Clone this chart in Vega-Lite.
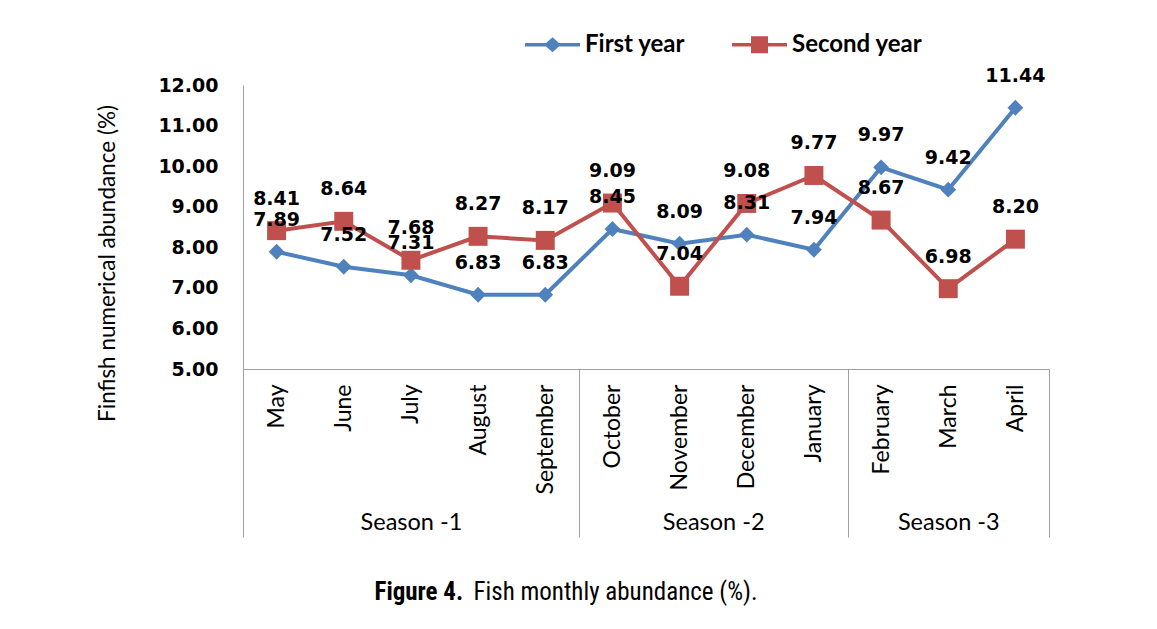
{
  "$schema": "https://vega.github.io/schema/vega-lite/v6.json",
  "width": 806,
  "height": 284,
  "autosize": "none",
  "padding": {"left": 243, "top": 85, "right": 108, "bottom": 260},
  "background": "white",
  "config": {"view": {"stroke": null}},
  "datasets": {
    "abundance": [
      {"month": "May", "series": "First year", "value": 7.89},
      {"month": "June", "series": "First year", "value": 7.52},
      {"month": "July", "series": "First year", "value": 7.31},
      {"month": "August", "series": "First year", "value": 6.83},
      {"month": "September", "series": "First year", "value": 6.83},
      {"month": "October", "series": "First year", "value": 8.45},
      {"month": "November", "series": "First year", "value": 8.09},
      {"month": "December", "series": "First year", "value": 8.31},
      {"month": "January", "series": "First year", "value": 7.94},
      {"month": "February", "series": "First year", "value": 9.97},
      {"month": "March", "series": "First year", "value": 9.42},
      {"month": "April", "series": "First year", "value": 11.44},
      {"month": "May", "series": "Second year", "value": 8.41},
      {"month": "June", "series": "Second year", "value": 8.64},
      {"month": "July", "series": "Second year", "value": 7.68},
      {"month": "August", "series": "Second year", "value": 8.27},
      {"month": "September", "series": "Second year", "value": 8.17},
      {"month": "October", "series": "Second year", "value": 9.09},
      {"month": "November", "series": "Second year", "value": 7.04},
      {"month": "December", "series": "Second year", "value": 9.08},
      {"month": "January", "series": "Second year", "value": 9.77},
      {"month": "February", "series": "Second year", "value": 8.67},
      {"month": "March", "series": "Second year", "value": 6.98},
      {"month": "April", "series": "Second year", "value": 8.20}
    ],
    "seasons": [
      {"season": "Season -1", "start": 0, "end": 5},
      {"season": "Season -2", "start": 5, "end": 9},
      {"season": "Season -3", "start": 9, "end": 12}
    ]
  },
  "layer": [
    {
      "data": {"name": "abundance"},
      "encoding": {
        "x": {
          "field": "month", "type": "ordinal",
          "sort": ["May", "June", "July", "August", "September", "October", "November", "December", "January", "February", "March", "April"],
          "scale": {"type": "point", "padding": 0.5},
          "axis": {
            "orient": "bottom",
            "labelAngle": -90, "labelFont": "Lato", "labelFontSize": 23, "labelColor": "black",
            "labelPadding": 15, "ticks": false, "tickSize": 0,
            "domainColor": "#a0a0a0", "domainWidth": 1, "grid": false,
            "title": "Figure 4.", "titleFont": "Liberation Sans Narrow, Roboto Condensed, Liberation Sans",
            "titleFontSize": 25, "titleFontWeight": "bold", "titleColor": "black",
            "titleX": 131, "titleY": 222, "titleAlign": "left", "titleBaseline": "middle", "titleAnchor": null
          }
        },
        "y": {
          "field": "value", "type": "quantitative",
          "scale": {"domain": [5, 12], "nice": false, "zero": false},
          "axis": {
            "values": [5, 6, 7, 8, 9, 10, 11, 12], "format": ".2f",
            "labelFont": "DejaVu Sans", "labelFontSize": 19, "labelFontWeight": "bold", "labelColor": "black",
            "labelPadding": 25, "ticks": false, "tickSize": 0, "grid": false,
            "domainColor": "#a0a0a0", "domainWidth": 1,
            "title": "Finfish numerical abundance (%)", "titleFont": "Lato", "titleFontSize": 22.5,
            "titleFontWeight": "normal", "titleColor": "black", "titleAngle": 270,
            "titleX": -136, "titleY": 178, "titleAlign": "center", "titleBaseline": "middle"
          }
        }
      },
      "layer": [
        {
          "mark": {"type": "line", "strokeWidth": 4},
          "encoding": {
            "color": {
              "field": "series", "type": "nominal",
              "scale": {"domain": ["First year", "Second year"], "range": ["#4F81BD", "#C0504D"]},
              "legend": {
                "orient": "none", "legendX": 282, "legendY": -68, "direction": "horizontal", "title": null,
                "symbolSize": 3025, "symbolStrokeWidth": 0,
                "symbolType": "M-1,-0.065L1,-0.065L1,0.065L-1,0.065Z",
                "labelFont": "Lato", "labelFontSize": 24, "labelFontWeight": "bold", "labelColor": "black",
                "labelOffset": 5, "columnPadding": 46, "padding": 0,
                "encode": {
                  "symbols": {
                    "update": {
                      "shape": {"signal": "datum.value === 'First year' ? 'M-1,-0.065L-0.235,-0.065L0,-0.27L0.235,-0.065L1,-0.065L1,0.065L0.235,0.065L0,0.27L-0.235,0.065L-1,0.065Z' : 'M-1,-0.065L-0.31,-0.065L-0.31,-0.31L0.31,-0.31L0.31,-0.065L1,-0.065L1,0.065L0.31,0.065L0.31,0.31L-0.31,0.31L-0.31,0.065L-1,0.065Z'"},
                      "fill": {"signal": "scale('color', datum.value)"},
                      "size": {"value": 3025},
                      "fillOpacity": {"value": 1},
                      "strokeWidth": {"value": 0}
                    }
                  }
                }
              }
            }
          }
        },
        {
          "transform": [{"filter": "datum.series === 'First year'"}],
          "mark": {"type": "point", "filled": true, "opacity": 1, "shape": "diamond", "size": 250, "color": "#4F81BD"}
        },
        {
          "transform": [{"filter": "datum.series === 'Second year'"}],
          "mark": {"type": "point", "filled": true, "opacity": 1, "shape": "square", "size": 360, "color": "#C0504D"}
        },
        {
          "mark": {"type": "text", "dy": -32, "baseline": "middle", "align": "center", "font": "DejaVu Sans", "fontSize": 19, "fontWeight": "bold", "color": "black"},
          "encoding": {
            "text": {"field": "value", "type": "quantitative", "format": ".2f"}
          }
        }
      ]
    },
    {
      "data": {"name": "seasons"},
      "mark": {"type": "rect", "fillOpacity": 0, "strokeOpacity": 0},
      "encoding": {
        "x": {
          "field": "start", "type": "quantitative",
          "scale": {"domain": [0, 12], "nice": false, "zero": false},
          "axis": {
            "orient": "bottom",
            "values": [0, 2.5, 5, 7, 9, 10.5, 12],
            "labelExpr": "datum.value === 2.5 ? 'Season -1' : datum.value === 7 ? 'Season -2' : datum.value === 10.5 ? 'Season -3' : ''",
            "labelFont": "Lato", "labelFontSize": 23.5, "labelColor": "black", "labelAngle": 0,
            "labelBaseline": "middle", "labelPadding": -15, "labelFlush": false, "labelOverlap": false,
            "ticks": true, "tickSize": 168, "tickColor": "#a0a0a0", "tickWidth": 1,
            "tickOpacity": {"condition": {"test": "datum.value === 0 || datum.value === 5 || datum.value === 9 || datum.value === 12", "value": 1}, "value": 0},
            "domain": false, "grid": false,
            "title": "Fish monthly abundance (%).", "titleFont": "Liberation Sans Narrow, Roboto Condensed, Liberation Sans",
            "titleFontSize": 25, "titleFontWeight": "normal", "titleColor": "black",
            "titleX": 230, "titleY": 222, "titleAlign": "left", "titleBaseline": "middle"
          }
        },
        "x2": {"field": "end"}
      }
    }
  ],
  "resolve": {"scale": {"x": "independent"}, "axis": {"x": "independent"}}
}
